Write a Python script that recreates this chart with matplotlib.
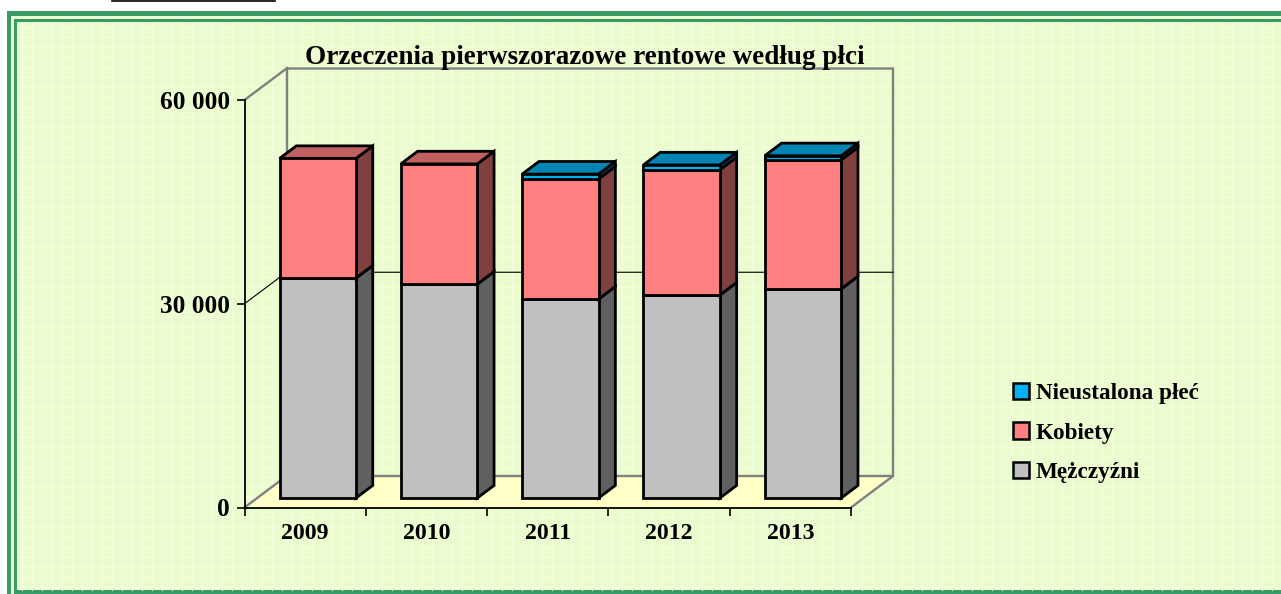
import matplotlib
matplotlib.use('Agg')
import matplotlib.pyplot as plt
import numpy as np
from matplotlib.patches import Polygon, Rectangle, Patch
from matplotlib.lines import Line2D

years = ['2009', '2010', '2011', '2012', '2013']
men = [32400, 31500, 29300, 29900, 30800]
women = [17600, 17700, 17700, 18450, 19000]
unknown = [0, 0, 700, 700, 600]

series_names = ['Mężczyźni', 'Kobiety', 'Nieustalona płeć']
front_cols = ['#C0C0C0', '#FF8080', '#00B0F0']
top_cols = ['#909090', '#C06060', '#0084B4']
side_cols = ['#606060', '#804040', '#005878']

y_ticks = [0, 30000, 60000]
y_tick_labels = ['0', '30 000', '60 000']

title = 'Orzeczenia pierwszorazowe rentowe według płci'

plt.rcParams['font.family'] = ['Liberation Serif', 'DejaVu Serif']
plt.rcParams['font.weight'] = 'bold'

W, H = 1281, 594
fig = plt.figure(figsize=(W / 100, H / 100), dpi=100)
fig.patch.set_facecolor('white')


def fx(x):
    return x / W


def fy(y):
    return 1 - y / H


def frame_rect(x0, y0, x1, y1, color):
    fig.add_artist(Rectangle((fx(x0), fy(y1)), fx(x1) - fx(x0), fy(y0) - fy(y1),
                             transform=fig.transFigure, facecolor=color,
                             edgecolor='none', zorder=-10))


# green double frame and pale background
frame_rect(7, 11, 1300, 602, '#3A9A66')
frame_rect(11, 16, 1300, 598, '#E8FFCF')
frame_rect(14, 19, 1300, 595, '#3A9A66')
frame_rect(17, 22, 1300, 590, '#EAFCCB')
for gx in np.arange(22, W, 10):
    fig.add_artist(Line2D([fx(gx), fx(gx)], [fy(22), fy(590)], color='#F2FFDF',
                          lw=0.8, zorder=-9))
for gy in np.arange(27, 590, 10):
    fig.add_artist(Line2D([fx(17), 1], [fy(gy), fy(gy)], color='#F2FFDF',
                          lw=0.8, zorder=-9))
fig.add_artist(Line2D([fx(112), fx(275)], [fy(0.8), fy(0.8)], color='black', lw=1.2))

ax = fig.add_axes([fx(244.5), fy(507.5), (851 - 244.5) / W, 407.5 / H])
ax.set_xlim(-0.5, len(years) - 0.5)
ax.set_ylim(0, 60000)
ax.patch.set_alpha(0)
for s in ['top', 'right']:
    ax.spines[s].set_visible(False)
for s in ['left', 'bottom']:
    ax.spines[s].set_linewidth(1.3)
    ax.spines[s].set_zorder(5)

ax.set_yticks(y_ticks)
ax.set_yticklabels(y_tick_labels, fontsize=18.3, fontweight='bold')
ax.tick_params(axis='y', length=6, width=1.2, pad=4.5)
ax.set_xticks(np.arange(-0.5, len(years)))
ax.set_xticklabels([])
ax.set_xticks(np.arange(len(years)), minor=True)
ax.set_xticklabels(years, minor=True, fontsize=17.2, fontweight='bold')
ax.tick_params(axis='x', which='major', length=6, width=1.2)
ax.tick_params(axis='x', which='minor', length=0, pad=11)

# depth vector (pixels) converted to data units
p0 = ax.transData.transform((0, 0))
D = ax.transData.inverted().transform(p0 + np.array([42, 31.5]))


def sh(x, y, f):
    return (x + D[0] * f, y + D[1] * f)


x0, x1 = -0.5, len(years) - 0.5
ymax = 60000

# floor
ax.add_patch(Polygon([sh(x0, 0, 0), sh(x1, 0, 0), sh(x1, 0, 1), sh(x0, 0, 1)],
                     closed=True, facecolor='#FFFFC8', edgecolor='none',
                     zorder=1, clip_on=False))
gray = '#808080'
walls = [
    [sh(x0, 0, 0), sh(x0, 0, 1), sh(x1, 0, 1), sh(x1, 0, 0)],
    [sh(x0, ymax, 0), sh(x0, ymax, 1), sh(x1, ymax, 1), sh(x1, 0, 1)],
    [sh(x0, 0, 1), sh(x0, ymax, 1)],
]
for w in walls:
    xs, ys = zip(*w)
    ax.plot(xs, ys, color=gray, lw=1.7, zorder=1.5, clip_on=False,
            solid_joinstyle='miter')
# gridline at 30000
xs, ys = zip(*[sh(x0, 30000, 0), sh(x0, 30000, 1), sh(x1, 30000, 1)])
ax.plot(xs, ys, color='black', lw=0.8, zorder=1.5, clip_on=False)

# bars
half = 0.315
d1, d2 = 0.3, 0.7
for i in range(len(years)):
    bottom = 0
    for vals, fc, tc, sc in zip([men, women, unknown], front_cols, top_cols, side_cols):
        v = vals[i]
        if v <= 0:
            continue
        top = bottom + v
        l, r = i - half, i + half
        front = [sh(l, bottom, d1), sh(r, bottom, d1), sh(r, top, d1), sh(l, top, d1)]
        side = [sh(r, bottom, d1), sh(r, bottom, d2), sh(r, top, d2), sh(r, top, d1)]
        topf = [sh(l, top, d1), sh(r, top, d1), sh(r, top, d2), sh(l, top, d2)]
        for poly, c in [(side, sc), (topf, tc), (front, fc)]:
            ax.add_patch(Polygon(poly, closed=True, facecolor=c, edgecolor='black',
                                 lw=2.0, joinstyle='miter', zorder=3, clip_on=False))
        bottom = top

handles = [Patch(facecolor=front_cols[k], edgecolor='black', lw=1.8) for k in [2, 1, 0]]
labels = [series_names[k] for k in [2, 1, 0]]
fig.legend(handles, labels, loc='center left', bbox_to_anchor=(fx(1001), fy(433)),
           frameon=False, handlelength=0.7, handleheight=0.7,
           handletextpad=0.3, labelspacing=0.8, borderpad=0,
           prop={'weight': 'bold', 'size': 16.7})

fig.text(fx(585), fy(58), title, ha='center', va='center', fontsize=19.5,
         fontweight='bold')

fig.savefig('out.png', dpi=100)
